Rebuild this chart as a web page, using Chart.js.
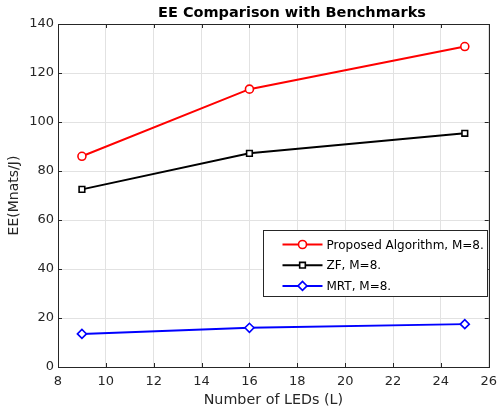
<!DOCTYPE html>
<html>
<head>
<meta charset="utf-8">
<script src="https://cdn.jsdelivr.net/npm/chart.js@4/dist/chart.umd.min.js"></script>
<style>
  html, body { margin: 0; padding: 0; background: #fff; }
</style>
</head>
<body>
<canvas id="myChart" width="504" height="413"></canvas>
<script>
// values
const leds = [9, 16, 25];
const proposed = [86, 113.4, 130.8];
const zf = [72.5, 87.2, 95.4];
const mrt = [13.5, 16, 17.5];

const xTicks = [8, 10, 12, 14, 16, 18, 20, 22, 24, 26];
const yTicks = [0, 20, 40, 60, 80, 100, 120, 140];

const seriesLabels = ["Proposed Algorithm, M=8.", "ZF, M=8.", "MRT, M=8."];
const chartTitle = "EE Comparison with Benchmarks";
const xTitle = "Number of LEDs (L)";
const yTitle = "EE(Mnats/J)";

const FONT = "'DejaVu Sans', Verdana, sans-serif";
const AXIS_COLOR = "#262626";
const GRID_COLOR = "#e2e2e2";

function points(ys) {
  return leds.map((x, i) => ({ x: x, y: ys[i] }));
}

// axes box with inward ticks, matlab style
const boxPlugin = {
  id: "box",
  beforeDatasetsDraw(chart) {
    const ctx = chart.ctx;
    const a = chart.chartArea;
    const sx = chart.scales.x;
    const sy = chart.scales.y;
    const len = 4;
    ctx.save();
    ctx.strokeStyle = AXIS_COLOR;
    ctx.lineWidth = 1;
    ctx.beginPath();
    xTicks.forEach(function (v) {
      let px = Math.round(sx.getPixelForValue(v)) + 0.5;
      ctx.moveTo(px, a.bottom);
      ctx.lineTo(px, a.bottom - len);
      ctx.moveTo(px, a.top);
      ctx.lineTo(px, a.top + len);
    });
    yTicks.forEach(function (v) {
      let py = Math.round(sy.getPixelForValue(v)) + 0.5;
      ctx.moveTo(a.left, py);
      ctx.lineTo(a.left + len, py);
      ctx.moveTo(a.right, py);
      ctx.lineTo(a.right - len, py);
    });
    ctx.stroke();
    ctx.strokeRect(Math.round(a.left) + 0.5, Math.round(a.top) + 0.5,
      Math.round(a.right - a.left), Math.round(a.bottom - a.top));
    ctx.restore();
  },
};

// title and the legend box inside the axes
const legendPlugin = {
  id: "insideLegend",
  afterDraw(chart) {
    const ctx = chart.ctx;
    ctx.save();

    ctx.fillStyle = "#000";
    ctx.font = "bold 14.5px " + FONT;
    ctx.textAlign = "center";
    ctx.textBaseline = "middle";
    ctx.fillText(chartTitle, 292, 13);

    const bx = 263.5, by = 230.5, bw = 224, bh = 66;
    ctx.fillStyle = "#fff";
    ctx.fillRect(bx, by, bw, bh);
    ctx.strokeStyle = "#262626";
    ctx.lineWidth = 1;
    ctx.strokeRect(bx, by, bw, bh);

    ctx.font = "12px " + FONT;
    ctx.textAlign = "left";
    chart.data.datasets.forEach(function (ds, i) {
      const y = by + 14 + i * 20.7;
      ctx.strokeStyle = ds.borderColor;
      ctx.lineWidth = ds.borderWidth;
      ctx.beginPath();
      ctx.moveTo(bx + 19, y);
      ctx.lineTo(bx + 59, y);
      ctx.stroke();
      ctx.fillStyle = ds.pointBackgroundColor;
      ctx.lineWidth = ds.pointBorderWidth;
      Chart.helpers.drawPoint(ctx, {
        pointStyle: ds.pointStyle,
        radius: ds.pointRadius,
        rotation: 0,
        borderWidth: ds.pointBorderWidth,
      }, bx + 39, y);
      ctx.fillStyle = "#000";
      ctx.fillText(ds.label, bx + 63, y + 1);
    });
    ctx.restore();
  },
};

const chart = new Chart(document.getElementById("myChart"), {
  type: "line",
  data: {
    datasets: [
      {
        label: seriesLabels[0],
        data: points(proposed),
        borderColor: "#ff0000",
        borderWidth: 2,
        pointStyle: "circle",
        pointRadius: 4,
        pointBorderWidth: 1.6,
        pointBackgroundColor: "#fff",
        pointBorderColor: "#ff0000",
      },
      {
        label: seriesLabels[1],
        data: points(zf),
        borderColor: "#000000",
        borderWidth: 2,
        pointStyle: "rect",
        pointRadius: 4,
        pointBorderWidth: 1.6,
        pointBackgroundColor: "#fff",
        pointBorderColor: "#000000",
      },
      {
        label: seriesLabels[2],
        data: points(mrt),
        borderColor: "#0000ff",
        borderWidth: 2,
        pointStyle: "rectRot",
        pointRadius: 4.5,
        pointBorderWidth: 1.6,
        pointBackgroundColor: "#fff",
        pointBorderColor: "#0000ff",
      },
    ],
  },
  options: {
    responsive: false,
    animation: false,
    devicePixelRatio: 1,
    layout: { padding: { top: 24, right: 12, left: 0, bottom: 0 } },
    plugins: {
      legend: { display: false },
      title: { display: false },
      tooltip: { enabled: false },
    },
    scales: {
      x: {
        type: "linear",
        min: xTicks[0],
        max: xTicks[xTicks.length - 1],
        afterBuildTicks(scale) {
          scale.ticks = xTicks.map((v) => ({ value: v }));
        },
        afterFit(scale) {
          scale.height = 46;
        },
        grid: { color: GRID_COLOR, drawTicks: false },
        border: { display: false },
        ticks: {
          color: AXIS_COLOR,
          padding: 7,
          maxRotation: 0,
          font: { family: FONT, size: 13 },
        },
        title: {
          display: true,
          text: xTitle,
          color: AXIS_COLOR,
          font: { family: FONT, size: 14.3 },
          padding: { top: 0, bottom: 4.4 },
        },
      },
      y: {
        min: yTicks[0],
        max: yTicks[yTicks.length - 1],
        afterBuildTicks(scale) {
          scale.ticks = yTicks.map((v) => ({ value: v }));
        },
        afterFit(scale) {
          scale.width = 58;
        },
        grid: { color: GRID_COLOR, drawTicks: false },
        border: { display: false },
        ticks: {
          color: AXIS_COLOR,
          padding: 4,
          font: { family: FONT, size: 13 },
        },
        title: {
          display: true,
          text: yTitle,
          color: AXIS_COLOR,
          font: { family: FONT, size: 14 },
          padding: { top: 5.5, bottom: 0 },
        },
      },
    },
  },
  plugins: [boxPlugin, legendPlugin],
});
</script>
</body>
</html>
